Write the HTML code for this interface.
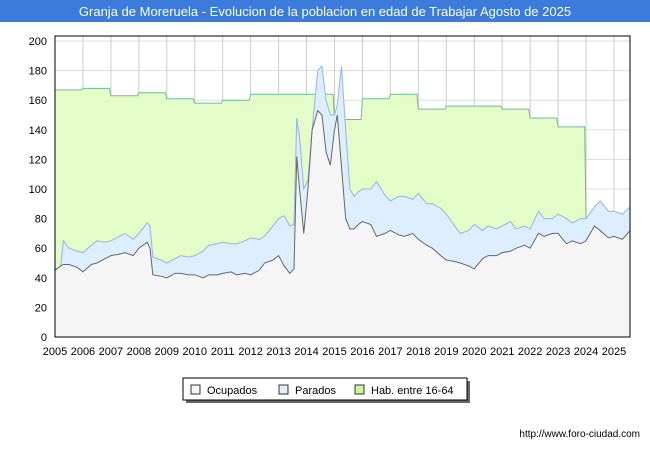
<!DOCTYPE html>
<html><head><meta charset="utf-8"><style>
body{margin:0;background:#fff;font-family:"Liberation Sans","DejaVu Sans",sans-serif}
#wrap{position:relative;width:650px;height:450px;overflow:hidden}
</style></head><body>
<div id="wrap">
<svg id="chart" width="650" height="450" xmlns="http://www.w3.org/2000/svg">
<rect x="0" y="0" width="650" height="22" fill="#3c7bd9"/>
<text x="325" y="16" text-anchor="middle" fill="#fff" font-size="13">Granja de Moreruela - Evolucion de la poblacion en edad de Trabajar Agosto de 2025</text>
<g id="grid"></g><g id="areas"></g><g id="axes"></g>
<g>
<rect x="186" y="381" width="284" height="22" fill="#666"/>
<rect x="183" y="378" width="284" height="22" fill="#fff" stroke="#000"/>
<rect x="191" y="385" width="9" height="9" fill="#f5f5f5" stroke="#333"/>
<text x="207" y="394" font-size="11">Ocupados</text>
<rect x="279" y="385" width="9" height="9" fill="#ddeeff" stroke="#333"/>
<text x="295" y="394" font-size="11">Parados</text>
<rect x="355" y="385" width="9" height="9" fill="#ccf5a0" stroke="#333"/>
<text x="371" y="394" font-size="11">Hab. entre 16-64</text>
</g>
<text x="640" y="437" text-anchor="end" font-size="10">http://www.foro-ciudad.com</text>
</svg></div>
<script>
const habYears=[2005,2006,2007,2008,2009,2010,2011,2012,2013,2014,2015,2016,2017,2018,2019,2020,2021,2022,2023];
const habValues=[167,168,163,165,161,158,160,164,164,164,147,161,164,154,156,156,154,148,142];
const dates=[2005,2005.2,2005.3,2005.5,2005.8,2006,2006.3,2006.5,2006.8,2007,2007.3,2007.5,2007.8,2008,2008.3,2008.4,2008.5,2008.8,2009,2009.3,2009.5,2009.8,2010,2010.3,2010.5,2010.8,2011,2011.3,2011.5,2011.8,2012,2012.3,2012.5,2012.8,2013,2013.2,2013.4,2013.55,2013.65,2013.75,2013.9,2014.05,2014.2,2014.4,2014.55,2014.7,2014.85,2015,2015.1,2015.25,2015.4,2015.55,2015.7,2015.85,2016,2016.3,2016.5,2016.8,2017,2017.3,2017.5,2017.8,2018,2018.3,2018.5,2018.8,2019,2019.3,2019.5,2019.8,2020,2020.3,2020.5,2020.8,2021,2021.3,2021.5,2021.8,2022,2022.3,2022.5,2022.8,2023,2023.3,2023.5,2023.8,2024,2024.3,2024.5,2024.8,2025,2025.3,2025.58];
const parados=[46,47,65,60,58, 57,62,65,64, 65,68,70,66, 70,77,75,54,52, 50,53,55,54, 55,58,62,63, 64,63,63,65, 67,66,68,75, 80,82,75,76,148,135,100, 106,140,180,183,160,150, 150,157,183,140,100,95,98, 100,100,105,96, 92,95,95,93, 97,90,90,87, 83,75,70,72, 76,72,75,73, 75,78,73,75, 73,85,80,80, 83,80,77,80, 80,88,92,85, 85,83,88];
const ocupados=[45,48,49,49,47,44,49,50,53,55,56,57,55,60,64,60,42,41,40,43,43,42,42,40,42,42,43,44,42,43,42,45,50,52,55,48,43,46,122,100,70,100,140,153,150,125,116,140,150,115,80,73,73,76,78,76,68,70,72,69,68,70,66,62,60,55,52,51,50,48,46,53,55,55,57,58,60,62,60,70,68,70,70,63,65,63,65,75,72,67,68,66,72];
const X=y=>55+(y-2005)*27.95, Y=v=>337-v*1.48;
const NS="http://www.w3.org/2000/svg";
function mk(t,a,p){const e=document.createElementNS(NS,t);for(const k in a)e.setAttribute(k,a[k]);p.appendChild(e);return e;}
const grid=document.getElementById('grid'),areas=document.getElementById('areas'),axes=document.getElementById('axes');
mk('rect',{x:55,y:36,width:575,height:301,fill:'#fff'},grid);
for(let v=0;v<=200;v+=20){const l=mk('line',{x1:55,x2:630,y1:Y(v),y2:Y(v),stroke:'#ddd'},grid);


const t=mk('text',{x:47,y:Y(v)+4,'text-anchor':'end','font-size':11},axes);t.textContent=v;

}
for(let yr=2005;yr<=2025;yr++){const l=mk('line',{x1:X(yr),x2:X(yr),y1:36,y2:337,stroke:'#ccc'},grid);


const t=mk('text',{x:X(yr),y:355,'text-anchor':'middle','font-size':11},axes);t.textContent=yr;

}
let hp=[];habYears.forEach((yr,i)=>{hp.push([X(yr),Y(habValues[i])],[X(Math.min(yr+0.95,2023.95)),Y(habValues[i])]);});
const lastI=dates.findIndex(d=>d>=2024);
hp.push([X(dates[lastI]),Y(parados[lastI])]);
const hs=hp.map(p=>p.join(',')).join(' ');
const ha=mk('polygon',{points:`${X(2005)},337 ${hs} ${X(dates[lastI])},337`,fill:'#e4fcc8'},areas);


const hl=mk('polyline',{points:hs,fill:'none',stroke:'#6dbf8a'},areas);


function series(vals,fill,stroke,name){const n=Math.min(vals.length,dates.length);const pts=[];for(let i=0;i<n;i++)pts.push(X(dates[i])+','+Y(vals[i]));const ps=pts.join(' ');
const a=mk('polygon',{points:`${X(dates[0])},337 ${ps} ${X(dates[n-1])},337`,fill:fill},areas);


const l=mk('polyline',{points:ps,fill:'none',stroke:stroke},areas);

}
series(parados,'#ddeeff','#90b4ec','parados');
series(ocupados,'#f5f5f5','#666','ocupados');
const fr=mk('rect',{x:55,y:36,width:575,height:301,fill:'none',stroke:'#000'},axes);


</script>
</body></html>
